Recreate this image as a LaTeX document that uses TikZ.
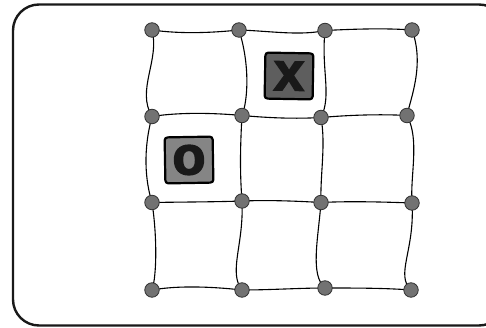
\documentclass[tikz,border=0pt]{standalone}
\usepackage{fontspec}
\setmainfont{Liberation Sans}
\newfontfamily\tilefont[FakeBold=3]{Liberation Sans Bold}
\tikzset{
  dot/.style={circle, fill=dotgray, draw=black!80, line width=0.8pt, minimum size=14.5pt, inner sep=0pt},
  wire/.style={line width=1.1pt, black},
  tile/.style={draw=black, line width=2.2pt, rounded corners=3pt, minimum width=48pt, minimum height=46pt, inner sep=0pt, text=black!90, font=\tilefont\fontsize{54}{54}\selectfont},
  frame/.style={line width=2.4pt, black!90, rounded corners=26pt}
}
\definecolor{dotgray}{HTML}{727272}
\definecolor{xgray}{HTML}{5E5E5E}
\definecolor{ogray}{HTML}{858585}
\begin{document}
\begin{tikzpicture}[x=1pt,y=-1pt]
\useasboundingbox (0,0) rectangle (486,328);
\clip (0,0) rectangle (486,328);
\draw[frame] (13,4.5) rectangle (505,325.5);
% nodes
\coordinate (p11) at (152,30);
\coordinate (p12) at (239,30);
\coordinate (p13) at (325,30.5);
\coordinate (p14) at (412,30);
\coordinate (p21) at (152,116.5);
\coordinate (p22) at (242,115.5);
\coordinate (p23) at (321,117.5);
\coordinate (p24) at (407,115.5);
\coordinate (p31) at (152,202.5);
\coordinate (p32) at (242,201);
\coordinate (p33) at (321,202.5);
\coordinate (p34) at (412,203);
\coordinate (p41) at (152,290);
\coordinate (p42) at (242,290);
\coordinate (p43) at (325,288);
\coordinate (p44) at (411,290);
% horizontal wires
\draw[wire] (p11) .. controls (180,34) and (210,33) .. (p12);
\draw[wire] (p12) .. controls (270,31) and (300,36) .. (p13);
\draw[wire] (p13) .. controls (355,29) and (385,28) .. (p14);
\draw[wire] (p21) .. controls (180,112) and (215,113) .. (p22);
\draw[wire] (p22) .. controls (270,118) and (295,119) .. (p23);
\draw[wire] (p23) .. controls (350,115) and (380,114) .. (p24);
\draw[wire] (p31) .. controls (180,202) and (215,202) .. (p32);
\draw[wire] (p32) .. controls (270,200) and (295,201) .. (p33);
\draw[wire] (p33) .. controls (350,201) and (385,202) .. (p34);
\draw[wire] (p41) .. controls (180,285) and (215,287) .. (p42);
\draw[wire] (p42) .. controls (270,290) and (300,288) .. (p43);
\draw[wire] (p43) .. controls (355,288) and (385,288) .. (p44);
% vertical wires
\draw[wire] (p11) .. controls (160,60) and (136,90) .. (p21);
\draw[wire] (p21) .. controls (143,150) and (145,180) .. (p31);
\draw[wire] (p31) .. controls (157,235) and (157,275) .. (p41);
\draw[wire] (p12) .. controls (250,65) and (248,100) .. (p22);
\draw[wire] (p22) .. controls (240,150) and (240,175) .. (p32);
\draw[wire] (p32) .. controls (244,245) and (228,272) .. (p42);
\draw[wire] (p13) .. controls (321,70) and (332,95) .. (p23);
\draw[wire] (p23) .. controls (326,145) and (320,175) .. (p33);
\draw[wire] (p33) .. controls (318,240) and (310,275) .. (p43);
\draw[wire] (p14) .. controls (425,65) and (410,100) .. (p24);
\draw[wire] (p24) .. controls (420,140) and (410,175) .. (p34);
\draw[wire] (p34) .. controls (415,250) and (395,275) .. (p44);
% dots
\foreach \r in {1,2,3,4}{\foreach \c in {1,2,3,4}{\node[dot] (n\r\c) at (p\r\c) {};}}
% tiles
\node[tile, fill=xgray, rotate=-1] (xt) at (289,76) {x};
\node[tile, fill=ogray, rotate=1] (ot) at (189,160) {o};
\end{tikzpicture}
\end{document}
